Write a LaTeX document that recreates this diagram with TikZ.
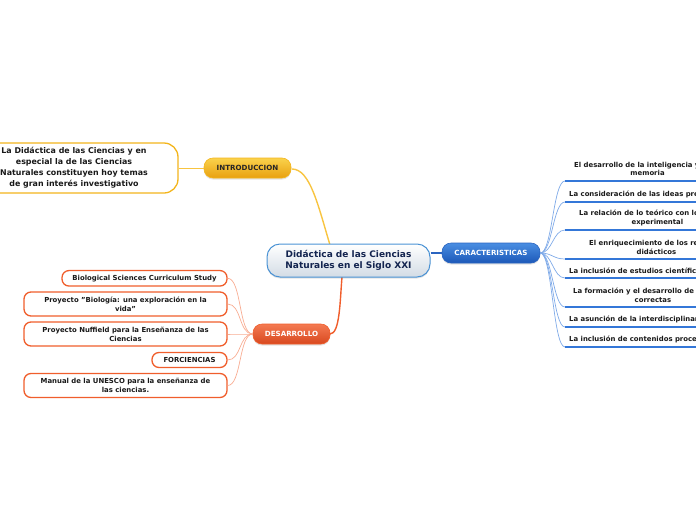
\documentclass[tikz,border=0pt]{standalone}
\usepackage{fontspec}
\setmainfont{DejaVu Sans}
\usetikzlibrary{shadows}
\definecolor{cnavy}{HTML}{13244F}
\definecolor{cblueb}{HTML}{4A92D4}
\definecolor{cgray}{HTML}{D3DCE5}
\definecolor{yelT}{HTML}{FAD24C}
\definecolor{yelB}{HTML}{E8A010}
\definecolor{yelD}{HTML}{F3B51C}
\definecolor{yelL}{HTML}{F8C440}
\definecolor{bluT}{HTML}{4A8EE2}
\definecolor{bluB}{HTML}{1C58B8}
\definecolor{bluD}{HTML}{2A64C0}
\definecolor{bluL}{HTML}{7FAAE8}
\definecolor{bluU}{HTML}{3477D8}
\definecolor{orT}{HTML}{F47A52}
\definecolor{orB}{HTML}{D8481F}
\definecolor{orD}{HTML}{F05E2C}
\definecolor{orL}{HTML}{F8AC92}
\tikzset{
  shad/.style={drop shadow={opacity=0.22,shadow xshift=0pt,shadow yshift=-1.5pt}},
  central/.style={draw=cblueb,line width=1pt,rounded corners=13pt,top color=white,bottom color=cgray,
    minimum width=163pt,minimum height=33pt,align=center,text=cnavy,inner sep=0pt,
    font=\fontsize{9}{11.5}\selectfont\bfseries,shad},
  maintopic/.style={rounded corners=9pt,minimum height=20pt,inner sep=0pt,align=center,
    font=\fontsize{7.1}{8}\selectfont\bfseries,shad},
  introbox/.style={maintopic,draw=yelD,line width=0.6pt,top color=yelT,bottom color=yelB,text=black!85},
  carbox/.style={maintopic,draw=bluD,line width=0.6pt,top color=bluT,bottom color=bluB,text=white},
  desbox/.style={maintopic,draw=orD,line width=0.6pt,top color=orT,bottom color=orB,text=white},
  ichild/.style={draw=yelD,fill=white,line width=1.3pt,rounded corners=14pt,minimum width=208pt,
    minimum height=50pt,inner sep=0pt,align=center,font=\fontsize{7.9}{11}\selectfont\bfseries,text=black!90},
  dchild/.style={draw=orD,fill=white,line width=1.3pt,rounded corners=7pt,inner sep=0pt,align=center,
    font=\fontsize{6.9}{9}\selectfont\bfseries,text=black!90},
  citem/.style={inner sep=0pt,align=center,anchor=west,font=\fontsize{6.9}{8.8}\selectfont\bfseries,text=black!90},
  yconn/.style={draw=yelL,line width=1.4pt},
  ythin/.style={draw=yelL,line width=0.7pt},
  bconn/.style={draw=bluL,line width=0.7pt},
  bmain/.style={draw=bluD,line width=1.2pt},
  uline/.style={draw=bluU,line width=1.5pt},
  oconn/.style={draw=orL,line width=0.7pt},
  omain/.style={draw=orD,line width=1.4pt}
}
\begin{document}
\begin{tikzpicture}[x=1pt,y=-1pt]
\useasboundingbox (0,0) rectangle (696,520);
\clip (0,0) rectangle (696,520);

% connectors (drawn first)
\coordinate (ia) at (292,169);
\coordinate (ib) at (330,245);
\draw[yconn] (ia) .. controls (310,169) and (318,205) .. (ib);
\coordinate (da) at (342,277);
\coordinate (db) at (330,334);
\draw[omain] (da) .. controls (340,300) and (340,334) .. (db);

% central
\node[central] (cen) at (348.5,260.5) {Didáctica de las Ciencias\\Naturales en el Siglo XXI};

% main topics
\node[introbox,minimum width=87pt] (intro) at (247.5,168) {INTRODUCCION};
\node[carbox,minimum width=98pt] (car) at (491,253) {CARACTERISTICAS};
\node[desbox,minimum width=77pt] (des) at (291.5,334) {DESARROLLO};

\draw[bmain] (cen.east |- car.west) -- (car.west);

% intro child
\node[ichild] (ic) at (74,168) {La Didáctica de las Ciencias y en\\especial la de las Ciencias\\Naturales constituyen hoy temas\\de gran interés investigativo};
\draw[ythin] (ic.east) -- (intro.west);

% desarrollo children
\node[dchild,minimum width=165pt,minimum height=15.5pt] (d1) at (144.5,278.3) {Biological Sciences Curriculum Study};
\node[dchild,minimum width=203pt,minimum height=24pt] (d2) at (125.5,304) {Proyecto "Biología: una exploración en la\\vida"};
\node[dchild,minimum width=203pt,minimum height=24pt] (d3) at (125.5,334) {Proyecto Nuffield para la Enseñanza de las\\Ciencias};
\node[dchild,minimum width=75pt,minimum height=15pt] (d4) at (189.5,360) {FORCIENCIAS};
\node[dchild,minimum width=203pt,minimum height=24pt] (d5) at (125.5,385.5) {Manual de la UNESCO para la enseñanza de\\las ciencias.};
\foreach \n in {d1,d2,d3,d4,d5}{
  \draw[oconn] (des.west) .. controls +(-14,0) and +(14,0) .. (\n.east);
}

% caracteristicas items
\coordinate (u1) at (565,181);
\coordinate (u2) at (565,202);
\coordinate (u3) at (565,230);
\coordinate (u4) at (565,259);
\coordinate (u5) at (565,278);
\coordinate (u6) at (565,307);
\coordinate (u7) at (565,327);
\coordinate (u8) at (565,347);
\foreach \u in {u1,u2,u3,u4,u5,u6,u7,u8}{
  \draw[bconn] (car.east) .. controls +(12,0) and +(-12,0) .. (\u);
  \draw[uline] (\u) -- ++(140,0);
}
\node[citem] (c1) at (574,169) {El desarrollo de la inteligencia y de la\\memoria};
\node[citem] (c2) at (569,194) {La consideración de las ideas previas};
\node[citem] (c3) at (579,218) {La relación de lo teórico con lo práctico-\\experimental};
\node[citem] (c4) at (589,247.5) {El enriquecimiento de los recursos\\didácticos};
\node[citem] (c5) at (569,271) {La inclusión de estudios científicos};
\node[citem] (c6) at (573,295.5) {La formación y el desarrollo de actitudes\\correctas};
\node[citem] (c7) at (569,319) {La asunción de la interdisciplinariedad};
\node[citem] (c8) at (569,339) {La inclusión de contenidos procedimentales};
\end{tikzpicture}
\end{document}
